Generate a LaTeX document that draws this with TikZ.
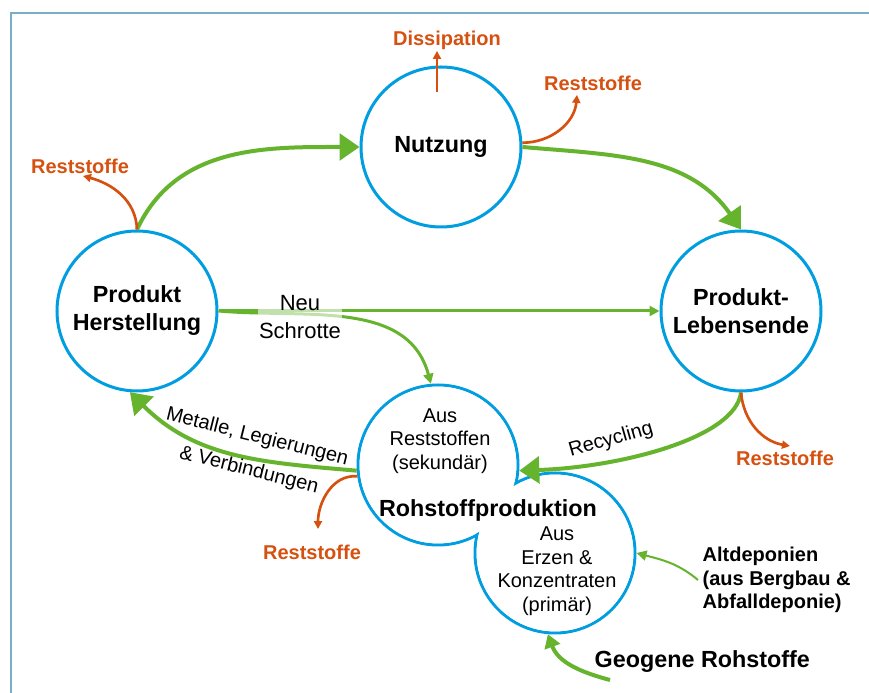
\documentclass[tikz,border=0pt]{standalone}
\usepackage{fontspec}
\setmainfont{Liberation Sans}
\usetikzlibrary{arrows.meta,calc}
\definecolor{cblue}{RGB}{0,158,224}
\definecolor{cgreen}{RGB}{102,179,46}
\definecolor{corange}{RGB}{214,80,16}
\definecolor{cframe}{RGB}{120,174,200}
\tikzset{
  main/.style={circle, minimum size=120pt, line width=2.25pt, draw=cblue, fill=white, align=center, font=\fontsize{17.5}{21}\selectfont\bfseries},
  hole/.style={circle, minimum size=117.6pt, inner sep=0pt, fill=white},
  connect/.style={-{Triangle[length=15pt,width=20pt]}, line width=3pt, color=cgreen},
  connectsmall/.style={-{Triangle[length=7.5pt,width=7.5pt]}, line width=2.25pt, color=cgreen},
  waste/.style={-{Triangle[length=6pt,width=6pt]}, line width=2pt, color=corange},
  wastetxt/.style={text=corange, inner sep=1pt, font=\fontsize{15}{18}\selectfont\bfseries},
  txt/.style={align=center, font=\fontsize{15}{17.6}\selectfont},
  frame/.style={line width=1.5pt, draw=cframe}
}
\begin{document}
\begin{tikzpicture}[x=0.75pt, y=0.75pt]
    \useasboundingbox (0,0) rectangle (869,693);
    \draw [frame] (11,0) -- (11,680) -- (869,680);

    \node[main] (Nutzung) at (441,546) {Nutzung};
    \node[main] (Herstellung) at (137,382) {Produkt\\Herstellung};
    \node[main] (Lebensende) at (741,382) {Produkt-\\Lebensende};
    \node[main] (RohA) at (438,228) {};
    \node[main] (RohB) at (555,140) {};
    \node[hole] (RohAin) at (RohA) {};
    \node[hole] (RohBin) at (RohB) {};

    \node[txt] (Sekundaer) at (440,252) {Aus\\Reststoffen\\(sekundär)};
    \node[font=\fontsize{17.5}{21}\selectfont\bfseries] (Rohstoff) at (488,183) {Rohstoffproduktion};
    \node[txt] (Primaer) at (557,122) {Aus\\Erzen \&\\Konzentraten\\(primär)};

    % Stoffkreislauf
    \path (Herstellung.north) edge [connect, out=65, in=180] (Nutzung.west)
          (Nutzung.east) edge [connect, out=-5, in=125] (Lebensende.north)
          (Lebensende.south) edge [connect, out=-97, in=2, out looseness=0.5, in looseness=1.1] (RohA.-4)
          (RohA.184) edge [connect, out=175, in=-45] (Herstellung.-95);
    \path (Herstellung.east) edge [connectsmall] (Lebensende.west)
          (Herstellung.east) edge [connectsmall, out=-5, in=105] (RohA.95);

    \node[txt, font=\fontsize{16.5}{21}\selectfont, fill=white, fill opacity=0.6, text opacity=1, inner sep=1pt] (Schrotte) at (300,376) {Neu\\Schrotte};
    \node[txt, rotate=-14] (Metalle) at (253,239) {Metalle, Legierungen\\[8pt]\& Verbindungen};
    \node[txt, rotate=16] (Recycling) at (611,253) {Recycling};

    % Zufluss
    \node[anchor=west, align=left, font=\fontsize{15}{17.6}\selectfont\bfseries] (Altdeponien) at (698,113) {Altdeponien\\(aus Bergbau \&\\Abfalldeponie)};
    \node[anchor=west, font=\fontsize{17.5}{21}\selectfont\bfseries] (Geogene) at (590,31) {Geogene Rohstoffe};
    \coordinate (GeoStart) at ($(Geogene.west)+(20,-18)$);
    \path (Altdeponien.west) edge [connectsmall, line width=1.5pt, out=140, in=-15] (RohB.0)
          (GeoStart) edge [connect, -{Triangle[length=10pt,width=12pt]}, out=165, in=-70] (RohB.-95);

    % Verluste
    \node[wastetxt] (Dissipation) at (447,653) {Dissipation};
    \node[wastetxt] (RestN) at (593,610) {Reststoffe};
    \node[wastetxt] (RestL) at (80,527) {Reststoffe};
    \node[wastetxt] (RestR) at (785,235) {Reststoffe};
    \node[wastetxt] (RestLL) at (312,141) {Reststoffe};
    \coordinate (DissStart) at ($(Nutzung.center)+(-4,55)$);
    \draw [waste, line width=1.5pt] (DissStart) -- (DissStart |- Dissipation.south);
    \path (Nutzung.3) edge [waste, out=0, in=-95] ($(RestN.south)+(-16,-3)$)
          (Herstellung.north) edge [waste, out=92, in=-15] ($(RestL.south)+(3,-1)$)
          (Lebensende.south) edge [waste, out=-85, in=170] ($(RestR.north)+(5,3)$)
          (RohA.188) edge [waste, out=175, in=90] ($(RestLL.north)+(6,14)$);
\end{tikzpicture}
\end{document}
